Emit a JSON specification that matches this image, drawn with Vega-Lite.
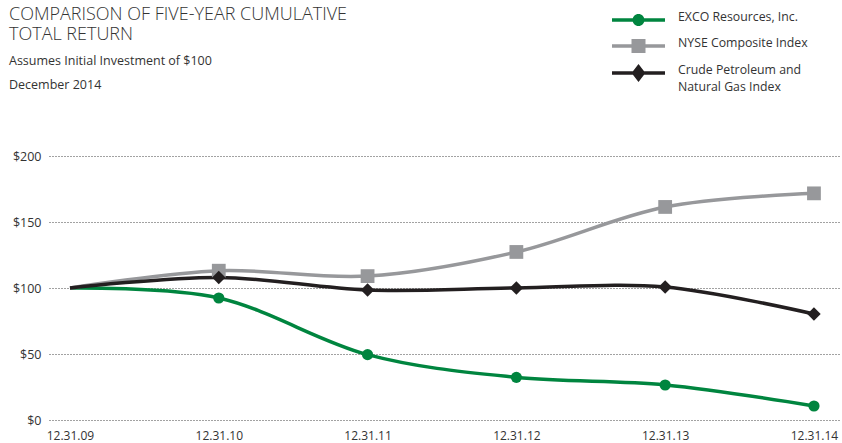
{
  "$schema": "https://vega.github.io/schema/vega-lite/v6.json",
  "width": 791,
  "height": 264,
  "autosize": {"type": "none"},
  "padding": {"left": 49, "top": 156, "right": 2, "bottom": 23},
  "background": "white",
  "config": {
    "view": {"stroke": null},
    "font": "Open Sans",
    "axis": {"labelFont": "Open Sans", "labelColor": "#333333", "labelFontSize": 12}
  },
  "title": {
    "text": ["COMPARISON OF FIVE-YEAR CUMULATIVE", "TOTAL RETURN"],
    "subtitle": ["Assumes Initial Investment of $100", "December 2014"],
    "anchor": "start",
    "frame": "group",
    "orient": "top",
    "dx": -40,
    "offset": -81,
    "font": "Open Sans",
    "fontSize": 18,
    "fontWeight": 300,
    "color": "#333333",
    "lineHeight": 20,
    "subtitleFont": "Open Sans",
    "subtitleFontSize": 12.5,
    "subtitleColor": "#333333",
    "subtitleLineHeight": 24,
    "subtitlePadding": 11
  },
  "data": {
    "values": [
      {"year": 2009, "series": "EXCO Resources, Inc.", "value": 100},
      {"year": 2010, "series": "EXCO Resources, Inc.", "value": 92.4},
      {"year": 2011, "series": "EXCO Resources, Inc.", "value": 49.5},
      {"year": 2012, "series": "EXCO Resources, Inc.", "value": 32.3},
      {"year": 2013, "series": "EXCO Resources, Inc.", "value": 26.5},
      {"year": 2014, "series": "EXCO Resources, Inc.", "value": 10.6},
      {"year": 2009, "series": "NYSE Composite Index", "value": 100},
      {"year": 2010, "series": "NYSE Composite Index", "value": 113.1},
      {"year": 2011, "series": "NYSE Composite Index", "value": 109},
      {"year": 2012, "series": "NYSE Composite Index", "value": 127.3},
      {"year": 2013, "series": "NYSE Composite Index", "value": 161.4},
      {"year": 2014, "series": "NYSE Composite Index", "value": 171.7},
      {"year": 2009, "series": "Crude Petroleum and Natural Gas Index", "value": 100},
      {"year": 2010, "series": "Crude Petroleum and Natural Gas Index", "value": 108},
      {"year": 2011, "series": "Crude Petroleum and Natural Gas Index", "value": 98.5},
      {"year": 2012, "series": "Crude Petroleum and Natural Gas Index", "value": 100},
      {"year": 2013, "series": "Crude Petroleum and Natural Gas Index", "value": 100.8},
      {"year": 2014, "series": "Crude Petroleum and Natural Gas Index", "value": 80.3}
    ]
  },
  "encoding": {
    "x": {
      "field": "year",
      "type": "quantitative",
      "scale": {"domain": [2008.859, 2014.175], "nice": false, "zero": false},
      "axis": {
        "title": null,
        "values": [2009, 2010, 2011, 2012, 2013, 2014],
        "labelExpr": "'12.31.' + substring(toString(datum.value), 2, 4)",
        "domain": false,
        "ticks": false,
        "grid": false,
        "labelPadding": 10,
        "labelFlush": false
      }
    },
    "y": {
      "field": "value",
      "type": "quantitative",
      "scale": {"domain": [0, 200], "nice": false},
      "axis": {
        "title": null,
        "values": [0, 50, 100, 150, 200],
        "labelExpr": "'$' + datum.value",
        "domain": false,
        "ticks": false,
        "grid": true,
        "gridDash": [1, 2],
        "gridColor": "#444444",
        "gridWidth": 1,
        "labelPadding": 8,
        "labelFontSize": 12.5
      }
    },
    "color": {
      "field": "series",
      "type": "nominal",
      "scale": {
        "domain": ["EXCO Resources, Inc.", "NYSE Composite Index", "Crude Petroleum and Natural Gas Index"],
        "range": ["#00853F", "#97989B", "#231F20"]
      },
      "legend": {
        "title": null,
        "orient": "none",
        "legendX": 579.5,
        "legendY": -146,
        "labelFont": "Open Sans",
        "labelFontSize": 12.3,
        "labelColor": "#333333",
        "labelOffset": 29.5,
        "labelBaseline": "top",
        "rowPadding": 10,
        "symbolSize": 400,
        "symbolStrokeWidth": 0,
        "labelExpr": "datum.label == 'Crude Petroleum and Natural Gas Index' ? ['Crude Petroleum and', 'Natural Gas Index'] : datum.label",
        "encode": {
          "labels": {"update": {"lineHeight": {"value": 17}, "dy": {"value": -9}}},
          "symbols": {
            "update": {
              "shape": {"signal": "datum.value == 'EXCO Resources, Inc.' ? 'M-2.65,-0.175H2.65V0.175H-2.65Z M0.6,0A0.6,0.6,0,1,1,-0.6,0A0.6,0.6,0,1,1,0.6,0Z' : datum.value == 'NYSE Composite Index' ? 'M-2.65,-0.175H2.65V0.175H-2.65Z M-0.7,-0.7H0.7V0.7H-0.7Z' : 'M-2.65,-0.175H2.65V0.175H-2.65Z M0,-0.9L0.69,0L0,0.9L-0.69,0Z'"},
              "fill": {"signal": "scale('color', datum.value)"},
              "fillOpacity": {"value": 1},
              "strokeWidth": {"value": 0}
            }
          }
        }
      }
    }
  },
  "layer": [
    {
      "mark": {"type": "line", "interpolate": "cardinal", "strokeWidth": 3.5},
      "encoding": {
        "order": {"field": "year"}
      }
    },
    {
      "mark": {"type": "point", "filled": true, "opacity": 1, "shape": "circle", "size": 125},
      "transform": [{"filter": "datum.year > 2009 && datum.series == 'EXCO Resources, Inc.'"}]
    },
    {
      "mark": {"type": "point", "filled": true, "opacity": 1, "shape": "square", "size": 190},
      "transform": [{"filter": "datum.year > 2009 && datum.series == 'NYSE Composite Index'"}]
    },
    {
      "mark": {"type": "point", "filled": true, "opacity": 1, "shape": "diamond", "size": 180},
      "transform": [{"filter": "datum.year > 2009 && datum.series == 'Crude Petroleum and Natural Gas Index'"}]
    }
  ]
}
